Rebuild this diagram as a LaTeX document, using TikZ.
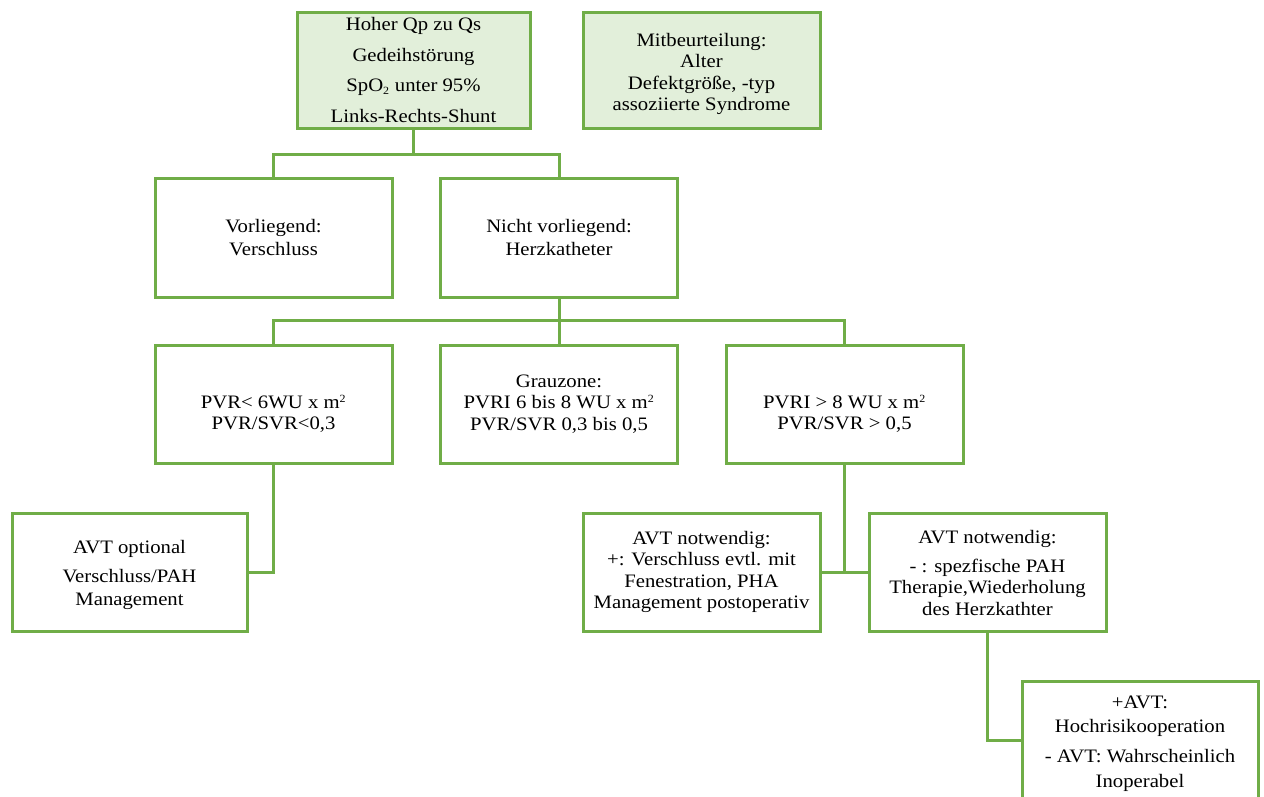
\documentclass[tikz,border=0pt]{standalone}
\usepackage{fontspec}
\setmainfont{Liberation Serif}[FakeStretch=1.09]
\definecolor{bgreen}{HTML}{70AD47}
\definecolor{lgreen}{HTML}{E2EFDA}
\tikzset{
  box/.style={draw=bgreen, line width=3pt, fill=white, align=center, inner sep=2pt,
    font=\fontsize{19}{21.5}\selectfont},
  topbox/.style={box, fill=lgreen},
  conn/.style={draw=bgreen, line width=3pt},
}
\newcommand{\sqm}{m\textsuperscript{\fontsize{11}{11}\selectfont 2}}
\newcommand{\lift}[1]{\rule{0pt}{#1}}
\begin{document}
\begin{tikzpicture}[x=1pt,y=-1pt]
\useasboundingbox (0,0) rectangle (1264,796);
\node[topbox, minimum width=233pt, minimum height=116pt] (b1) at (413.5,70)
  {Hoher Qp zu Qs\\[9pt] Gedeihstörung\\[9pt] SpO\textsubscript{\fontsize{11}{11}\selectfont 2} unter 95\%\\[9pt] Links-Rechts-Shunt};
\node[topbox, minimum width=237pt, minimum height=116pt] (b2) at (701.5,70)
  {\lift{21pt}Mitbeurteilung:\\ Alter\\ Defektgröße, -typ\\ assoziierte Syndrome};
\node[box, minimum width=237pt, minimum height=119pt] (vor) at (273.5,237.5)
  {Vorliegend:\\[2pt] Verschluss};
\node[box, minimum width=237pt, minimum height=119pt] (nicht) at (559,237.5)
  {Nicht vorliegend:\\[2pt] Herzkatheter};
\node[box, minimum width=237pt, minimum height=118pt] (pvr) at (273.5,404)
  {\lift{33pt}PVR< 6WU x \sqm\\ PVR/SVR<0,3};
\node[box, minimum width=237pt, minimum height=118pt] (grau) at (559,404)
  {Grauzone:\\ PVRI 6 bis 8 WU x \sqm\\ PVR/SVR 0,3 bis 0,5};
\node[box, minimum width=237pt, minimum height=118pt] (pvri) at (844.5,404)
  {\lift{33pt}PVRI > 8 WU x \sqm\\ PVR/SVR > 0,5};
\node[box, minimum width=235pt, minimum height=118pt] (avto) at (129.5,572)
  {\lift{19pt}AVT optional\\[8pt] Verschluss/PAH\\[1pt] Management};
\node[box, minimum width=237pt, minimum height=118pt] (avt1) at (701.5,572)
  {AVT notwendig:\\ +: Verschluss evtl. mit\\ Fenestration, PHA\\ Management postoperativ};
\node[box, minimum width=237pt, minimum height=118pt] (avt2) at (987.5,572)
  {\lift{15pt}AVT notwendig:\\[7pt] - : spezfische PAH\\ Therapie,Wiederholung\\ des Herzkathter};
\node[box, minimum width=236pt, minimum height=118pt] (last) at (1140,740)
  {\lift{20pt}+AVT:\\[2pt] Hochrisikooperation\\[9pt] - AVT: Wahrscheinlich\\[3pt] Inoperabel};
% connectors
\draw[conn] (b1.south) -- (b1.south |- 0,154);
\draw[conn] (vor.north) |- (nicht.north |- 0,154) -- (nicht.north);
\draw[conn] (nicht.south) -- (grau.north);
\draw[conn] (pvr.north) |- (pvri.north |- 0,320) -- (pvri.north);
\draw[conn] (pvr.south) |- (avto.east);
\draw[conn] (pvri.south) |- (avt1.east);
\draw[conn] (avt1.east) -- (avt2.west);
\draw[conn] (avt2.south) |- (last.west);
\end{tikzpicture}
\end{document}
